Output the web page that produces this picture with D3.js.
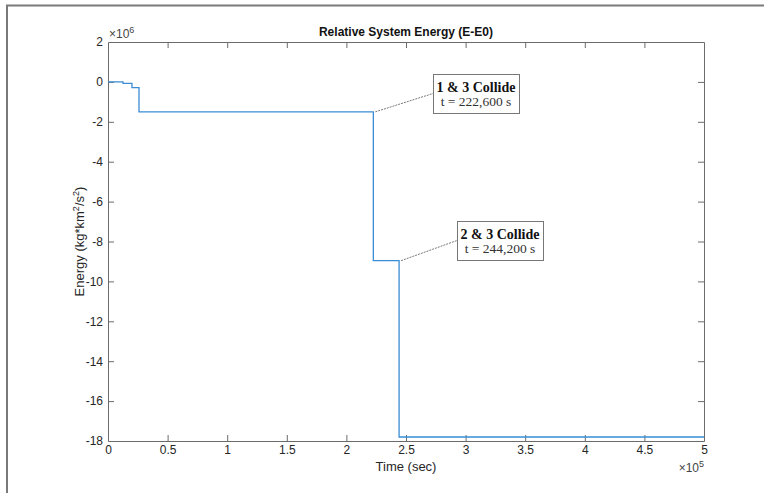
<!DOCTYPE html>
<html><head><meta charset="utf-8">
<script src="https://cdn.jsdelivr.net/npm/d3@7"></script>
<style>body{margin:0;background:#fff}svg{display:block}</style>
</head><body>
<svg id="c" width="764" height="493"></svg>
<script>
// Data (time in s, energy in 1e6 kg*km^2/s^2), step function
const times = [0, 12600, 20100, 26000, 222600, 244200, 500000];
const energy = [0, -0.07, -0.29, -1.5, -8.96, -17.8, -17.8];
const xTicks = [0, 0.5, 1, 1.5, 2, 2.5, 3, 3.5, 4, 4.5, 5];
const yTicks = [2, 0, -2, -4, -6, -8, -10, -12, -14, -16, -18];
const notes = [
  {t: 222600, e: -1.5, title: "1 & 3 Collide", sub: "t = 222,600 s", bx: 433, by: 74, bw: 86, bh: 39},
  {t: 244200, e: -8.96, title: "2 & 3 Collide", sub: "t = 244,200 s", bx: 457, by: 221, bw: 86, bh: 39}
];

const svg = d3.select("#c");
const L = 108, R = 704, T = 42, B = 441;
const x = d3.scaleLinear().domain([0, 5e5]).range([L, R]);
const y = d3.scaleLinear().domain([-18, 2]).range([B, T]);
const axisCol = "#6b6b6b";
const font = "'Liberation Sans', Arial, Helvetica, sans-serif";

// outer border
svg.append("path").attr("d", "M7,493 V5.5 H764").attr("fill", "none").attr("stroke", "#7a7a7a").attr("stroke-width", 2);

// axes
const xs = xTicks.map(d => d * 1e5);
const gx = svg.append("g").attr("transform", `translate(0,${B})`)
  .call(d3.axisBottom(x).tickValues(xs).tickFormat((d, i) => xTicks[i]).tickSizeInner(-6).tickSizeOuter(0).tickPadding(4));
const gxt = svg.append("g").attr("transform", `translate(0,${T})`)
  .call(d3.axisTop(x).tickValues(xs).tickFormat("").tickSizeInner(-6).tickSizeOuter(0));
const gy = svg.append("g").attr("transform", `translate(${L},0)`)
  .call(d3.axisLeft(y).tickValues(yTicks).tickFormat(d => d).tickSizeInner(-6).tickSizeOuter(0).tickPadding(5));
const gyr = svg.append("g").attr("transform", `translate(${R},0)`)
  .call(d3.axisRight(y).tickValues(yTicks).tickFormat("").tickSizeInner(-6).tickSizeOuter(0));
[gx, gxt, gy, gyr].forEach(g => {
  g.selectAll("path,line").attr("stroke", axisCol).attr("stroke-width", 1);
  g.selectAll("text").attr("fill", "#262626").style("font-family", font).style("font-size", "12px");
});
gx.selectAll(".tick line").filter(d => d === 0 || d === 5e5).remove();
gxt.selectAll(".tick line").filter(d => d === 0 || d === 5e5).remove();
gy.selectAll(".tick line").filter(d => d === 2 || d === -18).remove();
gyr.selectAll(".tick line").filter(d => d === 2 || d === -18).remove();

// line
const line = d3.line().x((d, i) => x(times[i])).y(d => y(d)).curve(d3.curveStepAfter);
svg.append("path").datum(energy).attr("d", line).attr("fill", "none")
  .attr("stroke", "#3a8dd4").attr("stroke-width", 1.3);

// annotations
notes.forEach(n => {
  const px = x(n.t) + 2, py = y(n.e);
  svg.append("line").attr("x1", px).attr("y1", py).attr("x2", n.bx).attr("y2", n.by + n.bh / 2)
    .attr("stroke", "#555").attr("stroke-width", 0.8).attr("stroke-dasharray", "2,1");
  svg.append("rect").attr("x", n.bx + 0.5).attr("y", n.by + 0.5).attr("width", n.bw).attr("height", n.bh)
    .attr("fill", "#fff").attr("stroke", "#777").attr("stroke-width", 1);
  svg.append("text").attr("x", n.bx + n.bw / 2).attr("y", n.by + 18).attr("text-anchor", "middle")
    .style("font-family", "'Liberation Serif', 'Times New Roman', serif").style("font-weight", "bold").style("font-size", "14px")
    .attr("fill", "#111").text(n.title);
  svg.append("text").attr("x", n.bx + n.bw / 2).attr("y", n.by + 32).attr("text-anchor", "middle")
    .style("font-family", "'Liberation Serif', 'Times New Roman', serif").style("font-size", "13.5px")
    .attr("fill", "#333").text(n.sub);
});

// title and labels
svg.append("text").attr("x", (L + R) / 2).attr("y", 36).attr("text-anchor", "middle")
  .style("font-family", font).style("font-weight", "bold").style("font-size", "12px").attr("fill", "#111")
  .text("Relative System Energy (E-E0)");
svg.append("text").attr("x", (L + R) / 2).attr("y", 471).attr("text-anchor", "middle")
  .style("font-family", font).style("font-size", "13px").attr("fill", "#262626").text("Time (sec)");
const yl = svg.append("text").attr("transform", `translate(84,${(T + B) / 2}) rotate(-90)`).attr("text-anchor", "middle")
  .style("font-family", font).style("font-size", "13px").attr("fill", "#262626");
yl.append("tspan").text("Energy (kg*km");
yl.append("tspan").attr("dy", -5).style("font-size", "9px").text("2");
yl.append("tspan").attr("dy", 5).text("/s");
yl.append("tspan").attr("dy", -5).style("font-size", "9px").text("2");
yl.append("tspan").attr("dy", 5).text(")");

const m6 = svg.append("text").attr("x", 109).attr("y", 38).style("font-family", font).style("font-size", "12px").attr("fill", "#444");
m6.append("tspan").text("×10");
m6.append("tspan").attr("dy", -5).style("font-size", "9px").text("6");
const m5 = svg.append("text").attr("x", 704).attr("y", 472).attr("text-anchor", "end").style("font-family", font).style("font-size", "12px").attr("fill", "#444");
m5.append("tspan").text("×10");
m5.append("tspan").attr("dy", -5).style("font-size", "9px").text("5");
</script>
</body></html>
